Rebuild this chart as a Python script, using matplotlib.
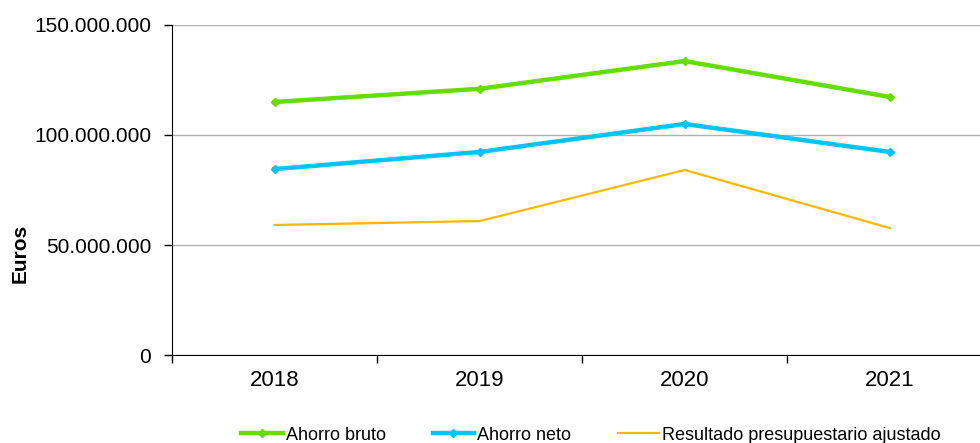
import matplotlib
matplotlib.use("Agg")
import matplotlib.pyplot as plt
from matplotlib.ticker import FuncFormatter, FixedLocator

# ---------------- DATA ----------------
years = ["2018", "2019", "2020", "2021"]
ahorro_bruto = [115_000_000, 121_000_000, 133_600_000, 117_300_000]
ahorro_neto = [84_500_000, 92_300_000, 105_000_000, 92_300_000]
resultado_ajustado = [59_100_000, 60_900_000, 84_100_000, 57_700_000]

plt.rcParams['font.family'] = ['Liberation Sans', 'DejaVu Sans']

fig = plt.figure(figsize=(9.8, 4.43), dpi=100)
ax = fig.add_axes([0.1755, 0.1986, 0.8245, 0.745])

x = list(range(len(years)))
ax.plot(x, ahorro_bruto, color='#66dd00', lw=3.2, marker='D', ms=4,
        label='Ahorro bruto', zorder=3)
ax.plot(x, ahorro_neto, color='#00c4f4', lw=3.2, marker='D', ms=4,
        label='Ahorro neto', zorder=3)
ax.plot(x, resultado_ajustado, color='#ffb800', lw=1.6,
        label='Resultado presupuestario ajustado', zorder=3)

# ---------------- AXES ----------------
ax.set_xlim(-0.5, 3.44)
ax.set_ylim(0, 150_000_000)
ax.set_yticks([0, 50_000_000, 100_000_000, 150_000_000])
ax.yaxis.set_major_formatter(FuncFormatter(lambda v, p: f"{int(v):,}".replace(",", ".")))
ax.yaxis.grid(True, color='#b0b0b0', lw=1)
ax.set_axisbelow(True)

ax.set_xticks(x)
ax.set_xticklabels(years)
ax.xaxis.set_minor_locator(FixedLocator([-0.5, 0.5, 1.5, 2.5]))
ax.tick_params(axis='x', which='major', length=0, pad=11, labelsize=16)
ax.tick_params(axis='x', which='minor', length=6, width=1, direction='out')
ax.tick_params(axis='y', length=6, width=1, labelsize=15, pad=9)

for s in ['top', 'right']:
    ax.spines[s].set_visible(False)
ax.spines['left'].set_color('black')
ax.spines['bottom'].set_color('black')

fig.text(20 / 980, 1 - 253 / 443, 'Euros', rotation=90, ha='center',
         va='center', fontsize=15, fontweight='bold')

fig.legend(loc='center', bbox_to_anchor=(0.603, 1 - 435 / 443), ncol=3,
           frameon=False, fontsize=13, handlelength=2.3, handletextpad=0.15,
           columnspacing=2.6, borderpad=0)

fig.savefig('out.png', dpi=100)
